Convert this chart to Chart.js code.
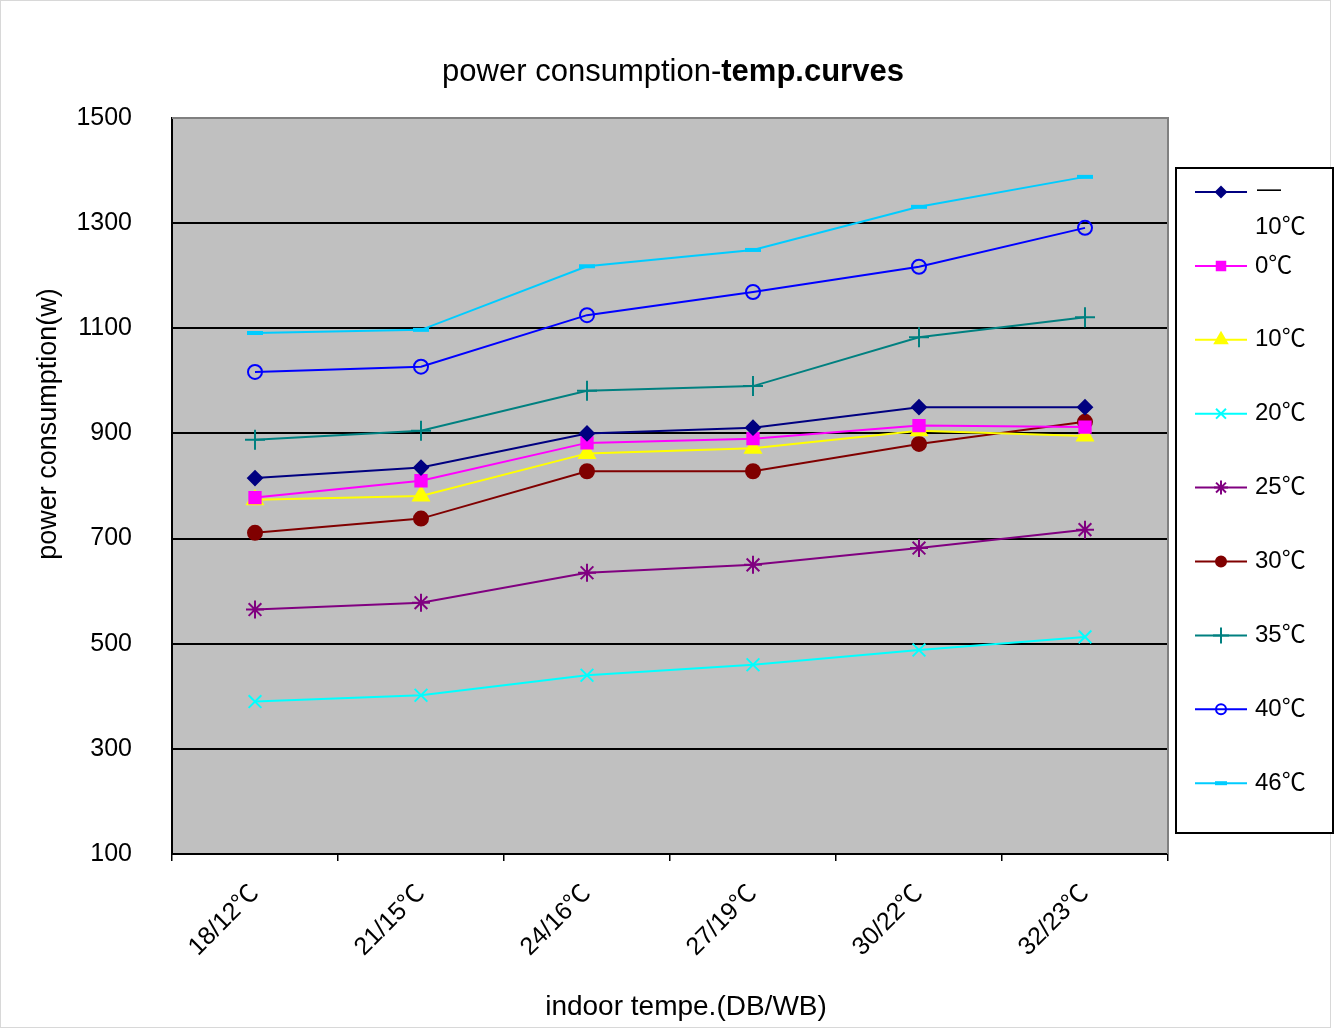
<!DOCTYPE html>
<html>
<head>
<meta charset="utf-8">
<title>power consumption-temp.curves</title>
<script src="https://cdn.jsdelivr.net/npm/chart.js@4.4.1/dist/chart.umd.min.js"></script>
<style>
  html, body { margin: 0; padding: 0; background: #fff; }
  #wrap { width: 1341px; height: 1030px; }
</style>
</head>
<body>
<div id="wrap"><canvas id="grafico" width="1341" height="1030"></canvas></div>
<script>
// dados
const categories = ['18/12℃', '21/15℃', '24/16℃', '27/19℃', '30/22℃', '32/23℃'];
const seriesNames = ['-10℃', '0℃', '10℃', '20℃', '25℃', '30℃', '35℃', '40℃', '46℃'];

const minus10 = [815, 835, 900, 911, 950, 950];
const t0 = [778, 810, 882, 890, 915, 912];
const t10 = [774, 781, 862, 872, 905, 895];
const t20 = [390, 402, 440, 460, 488, 513];
const t25 = [565, 578, 635, 650, 682, 717];
const t30 = [711, 738, 828, 828, 880, 922];
const t35 = [888, 905, 981, 990, 1083, 1121];
const t40 = [1017, 1027, 1125, 1169, 1217, 1291];
const t46 = [1091, 1097, 1218, 1249, 1331, 1388];

const yTicks = [100, 300, 500, 700, 900, 1100, 1300, 1500];

const FONT = "'Liberation Sans', Arial, 'Noto Sans CJK SC', sans-serif";

// estilo de cada série
const styles = [
  { color: '#000080', point: 'rectRot', r: 7, fill: '#000080' },
  { color: '#FF00FF', point: 'rect', r: 8, fill: '#FF00FF' },
  { color: '#FFFF00', point: 'triangle', r: 9, fill: '#FFFF00' },
  { color: '#00FFFF', point: 'crossRot', r: 9, fill: 'rgba(0,0,0,0)' },
  { color: '#800080', point: 'star', r: 9, fill: 'rgba(0,0,0,0)' },
  { color: '#800000', point: 'circle', r: 7, fill: '#800000' },
  { color: '#008080', point: 'cross', r: 10, fill: 'rgba(0,0,0,0)' },
  { color: '#0000FF', point: 'circle', r: 7, fill: 'rgba(0,0,0,0)' },
  { color: '#00CCFF', point: 'line', r: 8, fill: '#00CCFF' }
];
const values = [minus10, t0, t10, t20, t25, t30, t35, t40, t46];

const datasets = seriesNames.map((name, i) => ({
  label: name,
  data: values[i],
  borderColor: styles[i].color,
  backgroundColor: styles[i].color,
  borderWidth: 2,
  pointStyle: styles[i].point,
  pointRadius: styles[i].r,
  pointHoverRadius: styles[i].r,
  pointBackgroundColor: styles[i].fill,
  pointBorderColor: styles[i].color,
  pointBorderWidth: styles[i].point === 'line' ? 4 : 2,
  tension: 0,
  fill: false
}));

// fundo cinza, moldura, títulos e legenda
const decor = {
  id: 'decor',
  beforeDraw(chart) {
    const { ctx, chartArea: a } = chart;
    ctx.save();
    ctx.fillStyle = '#fff';
    ctx.fillRect(0, 0, chart.width, chart.height);
    ctx.fillStyle = '#C0C0C0';
    ctx.fillRect(a.left, a.top, a.right - a.left, a.bottom - a.top);
    ctx.restore();
  },
  afterDraw(chart) {
    const { ctx, chartArea: a } = chart;
    ctx.save();
    // borda superior e direita da área do gráfico
    ctx.strokeStyle = '#808080';
    ctx.lineWidth = 2;
    ctx.beginPath();
    ctx.moveTo(a.left, a.top);
    ctx.lineTo(a.right, a.top);
    ctx.lineTo(a.right, a.bottom);
    ctx.stroke();

    // moldura externa clara
    ctx.strokeStyle = '#d8d8d8';
    ctx.lineWidth = 1;
    ctx.strokeRect(0.5, 0.5, 1330, 1027);

    // título
    ctx.fillStyle = '#000';
    ctx.textBaseline = 'alphabetic';
    ctx.textAlign = 'left';
    const p1 = 'power consumption-';
    const p2 = 'temp.curves';
    ctx.font = '31px ' + FONT;
    const w1 = ctx.measureText(p1).width;
    ctx.font = 'bold 31px ' + FONT;
    const w2 = ctx.measureText(p2).width;
    const x0 = 673 - (w1 + w2) / 2;
    ctx.font = '31px ' + FONT;
    ctx.fillText(p1, x0, 81);
    ctx.font = 'bold 31px ' + FONT;
    ctx.fillText(p2, x0 + w1, 81);

    // títulos dos eixos
    ctx.font = '28px ' + FONT;
    ctx.textAlign = 'center';
    ctx.fillText('indoor tempe.(DB/WB)', 686, 1015);
    ctx.save();
    ctx.translate(56, 424);
    ctx.rotate(-Math.PI / 2);
    ctx.font = '27px ' + FONT;
    ctx.fillText('power consumption(w)', 0, 0);
    ctx.restore();

    // legenda
    ctx.fillStyle = '#fff';
    ctx.fillRect(1176, 168, 157, 665);
    ctx.strokeStyle = '#000';
    ctx.lineWidth = 2;
    ctx.strokeRect(1176, 168, 157, 665);
    ctx.font = '24px ' + FONT;
    ctx.textAlign = 'left';
    ctx.textBaseline = 'middle';
    chart.data.datasets.forEach((ds, i) => {
      const y = 192 + i * 73.9;
      ctx.strokeStyle = ds.borderColor;
      ctx.lineWidth = 2;
      ctx.beginPath();
      ctx.moveTo(1195, y);
      ctx.lineTo(1247, y);
      ctx.stroke();
      ctx.fillStyle = ds.pointBackgroundColor;
      ctx.strokeStyle = ds.pointBorderColor;
      ctx.lineWidth = ds.pointBorderWidth;
      if (Chart.helpers && Chart.helpers.drawPoint) {
        Chart.helpers.drawPoint(ctx, {
          pointStyle: ds.pointStyle,
          rotation: 0,
          radius: Math.max(4, ds.pointRadius - 2),
          borderWidth: ds.pointBorderWidth
        }, 1221, y);
      }
      ctx.fillStyle = '#000';
      if (ds.label.startsWith('-')) {
        ctx.fillText('—', 1257, y - 3);
        ctx.fillText(ds.label.slice(1), 1255, y + 35);
      } else {
        ctx.fillText(ds.label, 1255, y);
      }
    });
    ctx.restore();
  }
};

const config = {
  type: 'line',
  data: { labels: categories, datasets: datasets },
  options: {
    responsive: false,
    animation: false,
    layout: { padding: { left: 20, right: 173, top: 118, bottom: 8 } },
    plugins: {
      legend: { display: false },
      title: { display: false },
      tooltip: { enabled: false }
    },
    scales: {
      x: {
        offset: true,
        afterFit: (s) => { s.height = 168; },
        grid: {
          offset: true,
          drawOnChartArea: false,
          drawTicks: true,
          tickLength: 7,
          color: '#000',
          lineWidth: 1.5
        },
        border: { display: true, color: '#000', width: 2 },
        ticks: {
          color: '#000',
          font: { family: FONT, size: 25 },
          minRotation: 45,
          maxRotation: 45,
          padding: 18
        }
      },
      y: {
        min: yTicks[0],
        max: yTicks[yTicks.length - 1],
        afterFit: (s) => { s.width = 152; },
        afterBuildTicks: (s) => { s.ticks = yTicks.map(v => ({ value: v })); },
        grid: {
          drawTicks: false,
          color: (c) => (c.tick && (c.tick.value === yTicks[0] || c.tick.value === yTicks[yTicks.length - 1])) ? 'rgba(0,0,0,0)' : '#000',
          lineWidth: 2
        },
        border: { display: true, color: '#000', width: 2 },
        ticks: {
          color: '#000',
          font: { family: FONT, size: 25 },
          padding: 40,
          callback: (v) => String(v)
        }
      }
    }
  },
  plugins: [decor]
};

const ctx = document.getElementById('grafico').getContext('2d');
new Chart(ctx, config);
</script>
</body>
</html>
